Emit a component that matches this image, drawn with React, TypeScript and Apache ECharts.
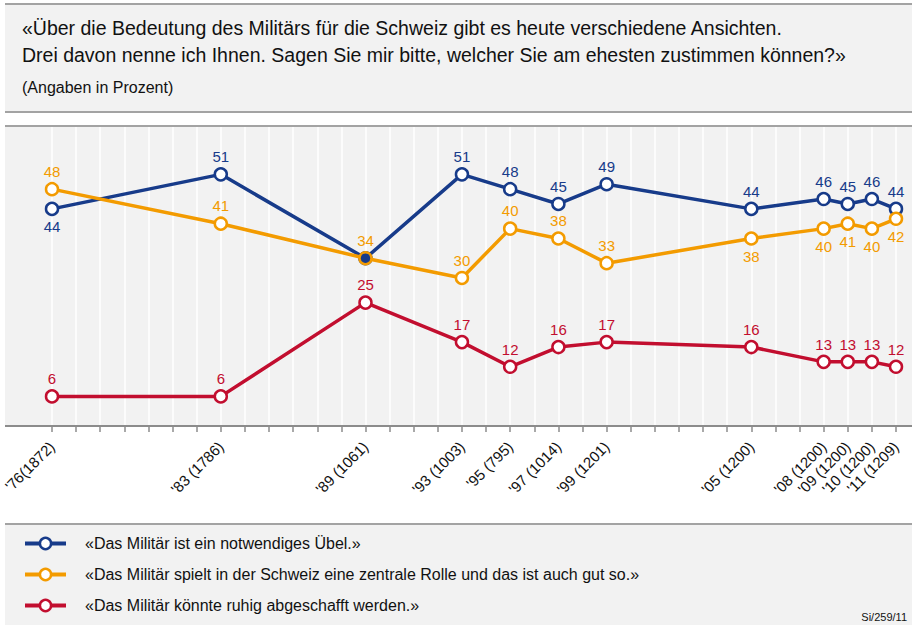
import React, { useEffect, useRef } from 'react';
import * as echarts from 'echarts';

const years = [1976, 1983, 1989, 1993, 1995, 1997, 1999, 2005, 2008, 2009, 2010, 2011];
const tickLabels = ["'76(1872)", "'83 (1786)", "'89 (1061)", "'93 (1003)", "'95 (795)", "'97 (1014)", "'99 (1201)", "'05 (1200)", "'08 (1200)", "'09 (1200)", "'10 (1200)", "'11 (1209)"];
const seriesNames = [
  '«Das Militär ist ein notwendiges Übel.»',
  '«Das Militär spielt in der Schweiz eine zentrale Rolle und das ist auch gut so.»',
  '«Das Militär könnte ruhig abgeschafft werden.»',
];
const notwendigesUebel = [44, 51, 34, 51, 48, 45, 49, 44, 46, 45, 46, 44];
const zentraleRolle = [48, 41, 34, 30, 40, 38, 33, 38, 40, 41, 40, 42];
const abgeschafft = [6, 6, 25, 17, 12, 16, 17, 16, 13, 13, 13, 12];
const blueLabelsBelow = [1976];
const blueLabelsHidden = [1989];
const orangeLabelsBelow = [2005, 2008, 2009, 2010, 2011];

const BLUE = '#173b8a';
const ORANGE = '#f39b00';
const RED = '#c20e2f';
const FONT = '"Liberation Sans", Arial, sans-serif';
const BG = '#f2f2f2';
const RULE = '#a3a3a3';

export default function App() {
  const ref = useRef<HTMLDivElement>(null);
  useEffect(() => {
    if (!ref.current) return;
    const chart = echarts.init(ref.current, null, { renderer: 'svg' });

    const mk = (vals: number[], below: number[], hidden: number[], special?: (y: number) => any) =>
      vals.map((v, i) => {
        const y = years[i];
        const d: any = {
          value: [y, v],
          label: {
            show: !hidden.includes(y),
            position: below.includes(y) ? 'bottom' : 'top',
          },
        };
        if (special) {
          const s = special(y);
          if (s) d.itemStyle = s;
        }
        return d;
      });

    const lineSeries = (name: string, color: string, data: any[], z: number) => ({
      type: 'line',
      name,
      data,
      z,
      color,
      symbol: 'circle',
      symbolSize: 12,
      lineStyle: { color, width: 3.5 },
      itemStyle: { color: '#ffffff', borderColor: color, borderWidth: 2.5 },
      label: { show: true, color, fontSize: 15, fontFamily: FONT, distance: 3 },
      emphasis: { disabled: true },
    });

    chart.setOption({
      animation: false,
      textStyle: { fontFamily: FONT },
      title: {
        left: 22,
        top: 14,
        text: '«Über die Bedeutung des Militärs für die Schweiz gibt es heute verschiedene Ansichten.\nDrei davon nenne ich Ihnen. Sagen Sie mir bitte, welcher Sie am ehesten zustimmen können?»',
        textStyle: { fontSize: 19.5, fontWeight: 'normal', color: '#111', lineHeight: 27, fontFamily: FONT },
        subtext: '(Angaben in Prozent)',
        subtextStyle: { fontSize: 16, color: '#111', lineHeight: 18, fontFamily: FONT },
        itemGap: 10,
        padding: 0,
      },
      legend: {
        orient: 'vertical',
        left: 23,
        top: 534,
        itemGap: 12,
        itemWidth: 41,
        itemHeight: 14,
        padding: 0,
        lineStyle: { width: 4 },
        itemStyle: { borderWidth: 2.5 },
        textStyle: { fontSize: 16, color: '#111', fontFamily: FONT, lineHeight: 19, padding: [0, 0, 0, 14] },
        data: seriesNames,
      },
      grid: { left: 52, right: 16, top: 126, bottom: 199 },
      xAxis: {
        type: 'value',
        min: 1976,
        max: 2011,
        interval: 1,
        axisLine: { show: false },
        axisTick: { show: true, length: 6, lineStyle: { color: '#8c8c8c', width: 1.5 } },
        splitLine: { show: true, lineStyle: { color: '#ffffff', width: 1.5 } },
        axisLabel: {
          rotate: 45,
          margin: 18,
          fontSize: 15,
          color: '#111',
          fontFamily: FONT,
          showMinLabel: true,
          showMaxLabel: true,
          formatter: (v: number) => {
            const i = years.indexOf(Math.round(v));
            return i >= 0 ? tickLabels[i] : '';
          },
        },
      },
      yAxis: { type: 'value', min: 0, max: 60.8, show: false, splitLine: { show: false } },
      graphic: [
        { type: 'rect', z: -10, shape: { x: 5, y: 4, width: 907, height: 108 }, style: { fill: BG } },
        { type: 'line', z: 10, shape: { x1: 5, y1: 4, x2: 912, y2: 4 }, style: { stroke: RULE, lineWidth: 2 } },
        { type: 'line', z: 10, shape: { x1: 5, y1: 112, x2: 912, y2: 112 }, style: { stroke: RULE, lineWidth: 2 } },
        { type: 'rect', z: -10, shape: { x: 5, y: 126, width: 907, height: 300 }, style: { fill: BG } },
        { type: 'line', z: 10, shape: { x1: 5, y1: 126, x2: 912, y2: 126 }, style: { stroke: RULE, lineWidth: 2 } },
        { type: 'line', z: 10, shape: { x1: 5, y1: 426, x2: 912, y2: 426 }, style: { stroke: '#8c8c8c', lineWidth: 2 } },
        { type: 'rect', z: -10, shape: { x: 5, y: 524, width: 907, height: 101 }, style: { fill: BG } },
        { type: 'line', z: 10, shape: { x1: 5, y1: 524, x2: 912, y2: 524 }, style: { stroke: RULE, lineWidth: 2 } },
        {
          type: 'text',
          z: 10,
          x: 907,
          y: 617,
          style: { text: 'Si/259/11', fill: '#111', font: `11px ${FONT}`, textAlign: 'right', textVerticalAlign: 'middle' },
        },
      ],
      series: [
        lineSeries(seriesNames[2], RED, mk(abgeschafft, [], []), 2),
        lineSeries(seriesNames[0], BLUE, mk(notwendigesUebel, blueLabelsBelow, blueLabelsHidden), 3),
        lineSeries(
          seriesNames[1],
          ORANGE,
          mk(zentraleRolle, orangeLabelsBelow, [], (y) =>
            y === 1989 ? { color: BLUE, borderColor: ORANGE, borderWidth: 2.5 } : null
          ),
          4
        ),
      ],
    });
    return () => chart.dispose();
  }, []);

  return (
    <div
      ref={ref}
      style={{ position: 'fixed', left: 0, top: 0, width: 912, height: 625, background: '#ffffff' }}
    />
  );
}
